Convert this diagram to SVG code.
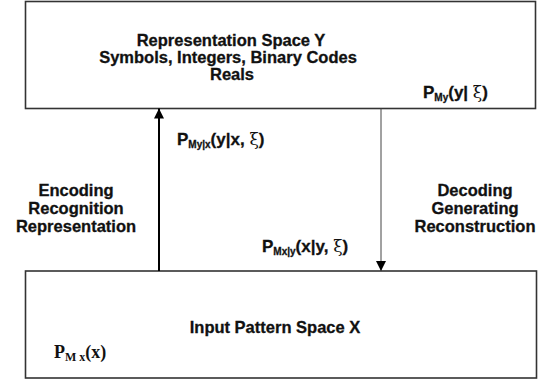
<svg xmlns="http://www.w3.org/2000/svg" width="542" height="384" viewBox="0 0 542 384">
<defs>
<marker id="ah" viewBox="0 0 10 10" refX="10" refY="5" markerWidth="10" markerHeight="10" markerUnits="userSpaceOnUse" orient="auto">
<path d="M0,0 L10,5 L0,10 Z" fill="#000"/>
</marker>
</defs>
<style>
.box{fill:#fff;stroke:#333;stroke-width:1.6}
.t{font-family:"Liberation Sans",Arial,sans-serif;font-weight:bold;font-size:16.5px;fill:#111;stroke:#111;stroke-width:0.3;text-anchor:middle}
.p{font-family:"Liberation Sans",Arial,sans-serif;font-weight:bold;font-size:17px;fill:#111;stroke:#111;stroke-width:0.3}
.sub{font-size:10px}
.xi{font-family:"DejaVu Serif","Liberation Serif",serif;font-weight:normal;stroke-width:0}
.ps{font-family:"Liberation Serif","Times New Roman",serif;font-weight:bold;font-size:18px;fill:#111}
</style>
<rect width="542" height="384" fill="#fff"/>
<g id="nodeY">
<rect class="box" x="25.5" y="1.5" width="510" height="107"/>
<text class="t" x="231" y="46">Representation Space Y</text>
<text class="t" x="228" y="63">Symbols, Integers, Binary Codes</text>
<text class="t" x="232" y="80">Reals</text>
<text class="p" x="423" y="98">P<tspan class="sub" dy="3">My</tspan><tspan dy="-3">(y| </tspan><tspan class="xi">ξ</tspan>)</text>
</g>
<g id="nodeX">
<rect class="box" x="25.5" y="271" width="511" height="107"/>
<text class="t" x="275" y="333">Input Pattern Space X</text>
<text class="ps" x="54" y="358">P<tspan font-size="12" dy="3">M x</tspan><tspan dy="-3">(x)</tspan></text>
</g>
<g id="connectors">
<line x1="159" y1="271" x2="159" y2="108.5" stroke="#000" stroke-width="2" marker-end="url(#ah)"/>
<line x1="381" y1="108.5" x2="381" y2="271" stroke="#444" stroke-width="1" marker-end="url(#ah)"/>
</g>
<g id="labels">
<text class="p" x="177" y="145">P<tspan class="sub" dy="3">My|x</tspan><tspan dy="-3">(y|x, </tspan><tspan class="xi">ξ</tspan>)</text>
<text class="p" x="262" y="252">P<tspan class="sub" dy="3">Mx|y</tspan><tspan dy="-3">(x|y, </tspan><tspan class="xi">ξ</tspan>)</text>
<text class="t" x="76" y="196">Encoding</text>
<text class="t" x="76" y="214">Recognition</text>
<text class="t" x="76" y="232">Representation</text>
<text class="t" x="475" y="196">Decoding</text>
<text class="t" x="475" y="214">Generating</text>
<text class="t" x="475" y="232">Reconstruction</text>
</g>
</svg>
